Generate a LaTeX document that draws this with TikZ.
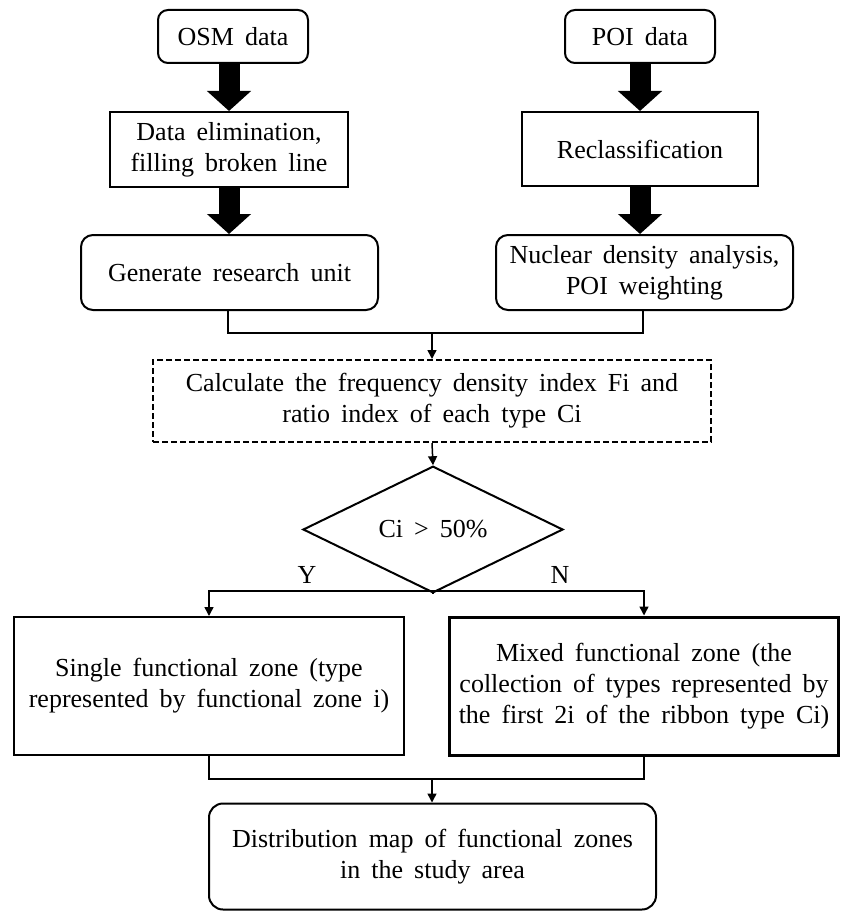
\documentclass[tikz,border=0pt]{standalone}
\usepackage{fontspec}
\setmainfont{Liberation Serif}[WordSpace=1.7]
\usetikzlibrary{arrows.meta,shapes.geometric,calc}
\tikzset{
  base/.style={draw=black, line width=2pt, align=center, inner sep=0pt, font=\fontsize{26}{31}\selectfont},
  rbox/.style={base, rounded corners=10pt},
  sbox/.style={base},
  dbox/.style={base, dash pattern=on 6pt off 3pt},
  bigarrow/.style={line width=21pt, -{Triangle[width=43pt,length=20pt]}},
  conn/.style={line width=1.5pt},
  connarrow/.style={line width=1.5pt, -{Triangle[width=9pt,length=9pt]}},
  lbl/.style={font=\fontsize{26}{31}\selectfont, inner sep=0pt}
}
\begin{document}
\begin{tikzpicture}[x=1pt,y=-1pt]
\useasboundingbox (0,0) rectangle (840,912);
% left column
\node[rbox, minimum width=150pt, minimum height=53pt] (osm) at (233,36.5) {OSM data};
\node[sbox, minimum width=238pt, minimum height=75pt] (elim) at (229,149.5) {Data elimination,\\filling broken line};
\node[rbox, rounded corners=12pt, minimum width=297pt, minimum height=75pt] (gen) at (229.5,272.5) {Generate research unit};
% right column
\node[rbox, minimum width=150pt, minimum height=53pt] (poi) at (640,36.5) {POI data};
\node[sbox, minimum width=236pt, minimum height=74pt] (recl) at (640,149) {Reclassification};
\node[rbox, rounded corners=12pt, minimum width=297pt, minimum height=75pt] (nuc) at (644.5,272.5) {Nuclear density analysis,\\POI weighting};
% middle
\node[dbox, minimum width=558pt, minimum height=82pt] (calc) at (432,401) {Calculate the frequency density index Fi and\\ratio index of each type Ci};
\node[base, diamond, minimum width=260pt, minimum height=73pt, inner sep=0pt] (dia) at (433,529.5) {Ci {>} 50\%};
\node[sbox, minimum width=390pt, minimum height=138pt] (single) at (209,686) {Single functional zone (type\\represented by functional zone i)};
\node[sbox, line width=3pt, minimum width=389pt, minimum height=138pt] (mixed) at (644,686) {Mixed functional zone (the\\collection of types represented by\\the first 2i of the ribbon type Ci)};
\node[rbox, rounded corners=14pt, minimum width=447pt, minimum height=106pt] (dist) at (432.5,856.5) {Distribution map of functional zones\\in the study area};
% labels
\node[lbl] (ylab) at (307,575) {Y};
\node[lbl] (nlab) at (560,575) {N};
% coordinates
\coordinate (m1) at (432,333);
\coordinate (b1) at (433,591);
\coordinate (m2) at (432,779);
% thick arrows
\draw[bigarrow] (elim.north |- osm.south) -- (elim.north);
\draw[bigarrow] (elim.south) -- (elim.south |- gen.north);
\draw[bigarrow] (recl.north |- poi.south) -- (recl.north);
\draw[bigarrow] (recl.south) -- (recl.south |- nuc.north);
% connectors
\draw[conn] (gen.south -| 228,0) |- (m1) -| (nuc.south -| 643,0);
\draw[connarrow] (m1) -- (m1 |- calc.north);
\draw[connarrow] (calc.south -| m1) -- (dia.north);
\draw[conn] (dia.south) -- (b1);
\draw[connarrow] (b1) -| (single.north);
\draw[connarrow] (b1) -| (mixed.north);
\draw[conn] (single.south) |- (m2) -| (mixed.south);
\draw[connarrow] (m2) -- (m2 |- dist.north);
\end{tikzpicture}
\end{document}
